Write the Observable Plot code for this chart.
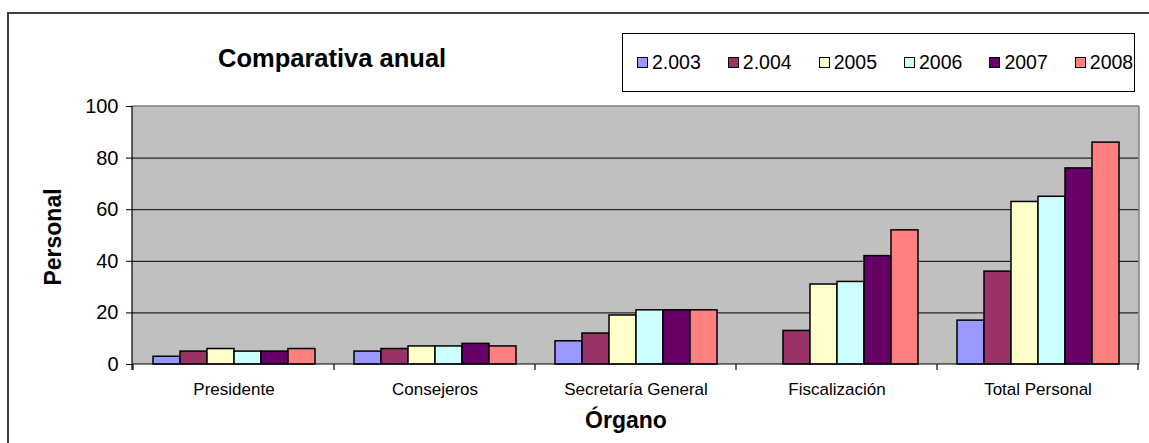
<!DOCTYPE html>
<html>
<head>
<meta charset="utf-8">
<script src="https://cdn.jsdelivr.net/npm/d3@7"></script>
<script src="https://cdn.jsdelivr.net/npm/@observablehq/plot@0.6"></script>
<style>
  body { margin: 0; background: #fff; font-family: Arial, "Liberation Sans", sans-serif; }
  #wrap { position: relative; width: 1149px; height: 443px; overflow: hidden; background: #fff; }
  #chart { position: absolute; left: 0; top: 0; }
  #border { position: absolute; left: 7px; top: 12px; width: 1200px; height: 500px; border: 2px solid #404040; box-sizing: border-box; }
  #title { position: absolute; left: 218px; top: 46px; font-weight: bold; font-size: 25.5px; line-height: 25px; white-space: nowrap; }
  #legend { position: absolute; left: 622px; top: 33px; width: 513px; height: 59px; border: 1px solid #000; box-sizing: border-box; background: #fff;
            display: flex; align-items: center; padding-left: 14px; font-size: 19.5px; }
  .item { display: flex; align-items: center; margin-right: 27px; white-space: nowrap; }
  .item:last-child { margin-right: 0; }
  .sw { width: 9px; height: 9px; border: 1px solid #000; margin-right: 4px; }
  #xlabel { position: absolute; left: 626px; top: 409px; transform: translateX(-50%); font-weight: bold; font-size: 23px; line-height: 23px; white-space: nowrap; }
  #ylabel { position: absolute; left: 53px; top: 237px; transform: translate(-50%, -50%) rotate(-90deg); font-weight: bold; font-size: 23px; line-height: 23px; white-space: nowrap; }
</style>
</head>
<body>
<div id="wrap">
  <div id="chart"></div>
  <div id="border"></div>
  <div id="title">Comparativa anual</div>
  <div id="legend"></div>
  <div id="xlabel">Órgano</div>
  <div id="ylabel">Personal</div>
</div>
<script>
const organos = ["Presidente", "Consejeros", "Secretaría General", "Fiscalización", "Total Personal"];
const years = ["2.003", "2.004", "2005", "2006", "2007", "2008"];
const colores = ["#9999ff", "#993366", "#ffffcc", "#ccffff", "#660066", "#ff8080"];
const v2003 = [3, 5, 9, 0, 17];
const v2004 = [5, 6, 12, 13, 36];
const v2005 = [6, 7, 19, 31, 63];
const v2006 = [5, 7, 21, 32, 65];
const v2007 = [5, 8, 21, 42, 76];
const v2008 = [6, 7, 21, 52, 86];
const yTicks = [0, 20, 40, 60, 80, 100];
const gridTicks = [20, 40, 60, 80];

const series = [v2003, v2004, v2005, v2006, v2007, v2008];
const data = [];
organos.forEach((o, i) => {
  years.forEach((yr, j) => {
    data.push({organo: o, year: yr, value: series[j][i]});
  });
});

const W = 1149, H = 443;
const chart = Plot.plot({
  width: W, height: H,
  marginLeft: 132, marginRight: 10, marginTop: 106, marginBottom: 79,
  style: {fontFamily: "Arial, 'Liberation Sans', sans-serif", color: "#000", background: "transparent", overflow: "visible"},
  fx: {domain: organos, padding: 0, label: null},
  x: {domain: years, paddingInner: 0, paddingOuter: 0.72, axis: null},
  y: {domain: [0, 100], label: null},
  color: {domain: years, range: colores},
  marks: [
    Plot.gridY(gridTicks, {stroke: "#000", strokeOpacity: 1, strokeWidth: 1}),
    Plot.barY(data.filter(d => d.value > 0), {fx: "organo", x: "year", y: "value", fill: "year", stroke: "#000", strokeWidth: 1.5}),
    Plot.axisFx({anchor: "bottom", tickSize: 0, tickPadding: 18, fontSize: 17, label: null}),
    Plot.axisY(yTicks, {tickSize: 7, tickPadding: 8, fontSize: 20, label: null, stroke: "#000"})
  ]
});
document.getElementById("chart").appendChild(chart);

// Plot-area background, axis lines, border and category boundary ticks from the library's scales
const fx = chart.scale("fx");
const ys = chart.scale("y");
const left = fx.range[0], right = fx.range[1];
const y0 = ys.apply(0), y100 = ys.apply(100);
const svg = d3.select(chart);
svg.insert("rect", ":first-child")
  .attr("x", left).attr("y", y100).attr("width", right - left).attr("height", y0 - y100)
  .attr("fill", "#c0c0c0");
const g = svg.append("g");
g.append("line").attr("x1", left).attr("x2", right).attr("y1", y100).attr("y2", y100).attr("stroke", "#808080").attr("stroke-width", 1.5);
g.append("line").attr("x1", right).attr("x2", right).attr("y1", y100).attr("y2", y0).attr("stroke", "#808080").attr("stroke-width", 1.5);
g.append("line").attr("x1", left).attr("x2", left).attr("y1", y100).attr("y2", y0 + 6).attr("stroke", "#000").attr("stroke-width", 1.2);
g.append("line").attr("x1", left).attr("x2", right).attr("y1", y0).attr("y2", y0).attr("stroke", "#000").attr("stroke-width", 1.2);
const edges = organos.map(o => fx.apply(o)).concat([fx.apply(organos[organos.length - 1]) + fx.bandwidth]);
g.selectAll("line.edge").data(edges).join("line").attr("class", "edge")
  .attr("x1", d => d).attr("x2", d => d).attr("y1", y0).attr("y2", y0 + 6)
  .attr("stroke", "#000").attr("stroke-width", 1.2);

// Legend
const legend = d3.select("#legend");
years.forEach((yr, j) => {
  const it = legend.append("div").attr("class", "item");
  it.append("div").attr("class", "sw").style("background", colores[j]);
  it.append("span").text(yr);
});
</script>
</body>
</html>
